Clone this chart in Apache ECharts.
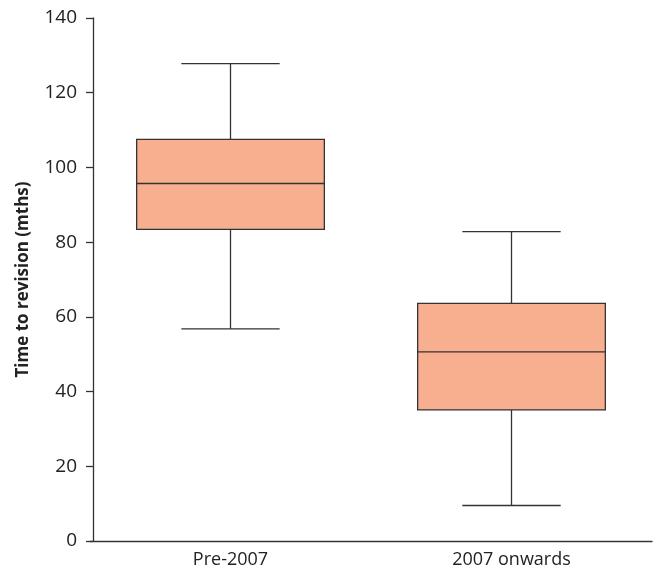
<!DOCTYPE html>
<html>
<head>
<meta charset="utf-8">
<script src="https://cdn.jsdelivr.net/npm/echarts@6/dist/echarts.min.js"></script>
<style>
  html, body { margin: 0; padding: 0; background: #fff; }
  #chart { width: 654px; height: 580px; }
</style>
</head>
<body>
<div id="chart"></div>
<script>
// box plot values
const categories = ['Pre-2007', '2007 onwards'];
const whiskerLow = [56.8, 9.5];
const q1 = [83.4, 35.1];
const median = [95.7, 50.6];
const q3 = [107.5, 63.6];
const whiskerHigh = [127.8, 82.8];
const yTicks = { min: 0, max: 140, interval: 20 };

const boxData = categories.map(function (c, i) {
  return [i, whiskerLow[i], q1[i], median[i], q3[i], whiskerHigh[i]];
});

const lineColor = '#333';
const fillColor = '#F8AF8F';

const chart = echarts.init(document.getElementById('chart'));

function renderBox(params, api) {
  const idx = api.value(0);
  const band = api.size([1, 0])[0];
  const boxW = band * 0.668;
  const capW = band * 0.35;
  const pLow = api.coord([idx, api.value(1)]);
  const pQ1 = api.coord([idx, api.value(2)]);
  const pMed = api.coord([idx, api.value(3)]);
  const pQ3 = api.coord([idx, api.value(4)]);
  const pHigh = api.coord([idx, api.value(5)]);
  const x = pMed[0];
  const ls = { stroke: lineColor, lineWidth: 1.3 };
  return {
    type: 'group',
    children: [
      { type: 'line', shape: { x1: x, y1: pHigh[1], x2: x, y2: pQ3[1] }, style: ls },
      { type: 'line', shape: { x1: x, y1: pQ1[1], x2: x, y2: pLow[1] }, style: ls },
      { type: 'line', shape: { x1: x - capW / 2, y1: pHigh[1], x2: x + capW / 2, y2: pHigh[1] }, style: ls },
      { type: 'line', shape: { x1: x - capW / 2, y1: pLow[1], x2: x + capW / 2, y2: pLow[1] }, style: ls },
      {
        type: 'rect',
        shape: { x: x - boxW / 2, y: pQ3[1], width: boxW, height: pQ1[1] - pQ3[1] },
        style: { fill: fillColor, stroke: lineColor, lineWidth: 1.3 }
      },
      { type: 'line', shape: { x1: x - boxW / 2, y1: pMed[1], x2: x + boxW / 2, y2: pMed[1] }, style: ls }
    ]
  };
}

const option = {
  animation: false,
  grid: { left: 90, right: 2, top: 18, bottom: 39 },
  xAxis: {
    type: 'category',
    data: categories,
    boundaryGap: true,
    axisLine: { lineStyle: { color: lineColor, width: 1.3 } },
    axisTick: { alignWithLabel: true, length: 7, lineStyle: { color: lineColor, width: 1.3 } },
    axisLabel: { color: '#222', fontSize: 18, fontFamily: 'Open Sans', margin: 10 },
    splitLine: { show: false }
  },
  yAxis: {
    type: 'value',
    min: yTicks.min,
    max: yTicks.max,
    interval: yTicks.interval,
    offset: -3,
    name: 'Time to revision (mths)',
    nameLocation: 'middle',
    nameGap: 61,
    nameTextStyle: { color: '#222', fontSize: 17, fontWeight: 'bold', fontFamily: 'Open Sans' },
    axisLine: { show: true, lineStyle: { color: lineColor, width: 1.3 } },
    axisTick: { show: true, length: 7, lineStyle: { color: lineColor, width: 1.3 } },
    axisLabel: { color: '#222', fontSize: 19, fontFamily: 'Open Sans', margin: 16 },
    splitLine: { show: false }
  },
  series: [{
    type: 'custom',
    renderItem: renderBox,
    encode: { x: 0, y: [1, 2, 3, 4, 5] },
    data: boxData
  }]
};

chart.setOption(option);
</script>
</body>
</html>
